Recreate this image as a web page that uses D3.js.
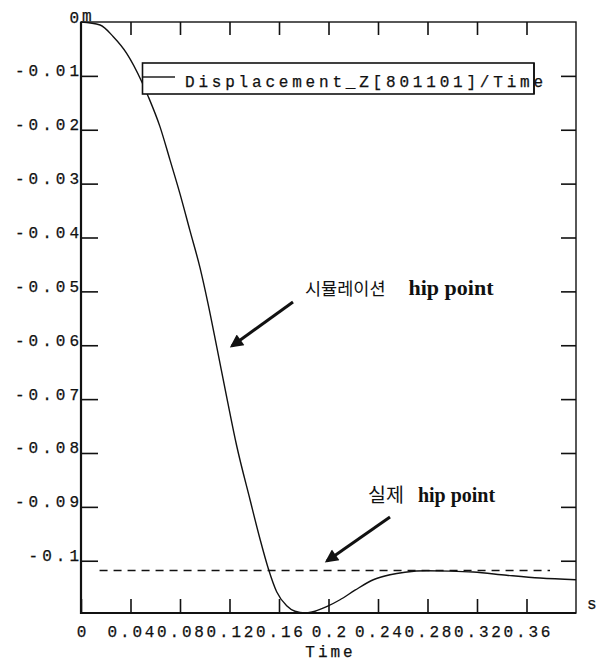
<!DOCTYPE html>
<html>
<head>
<meta charset="utf-8">
<script src="https://cdn.jsdelivr.net/npm/d3@7"></script>
<style>
    body { margin: 0; background: #fff; }
    svg { display: block; }
    .mono { font-family: "Liberation Mono", "DejaVu Sans Mono", monospace; font-size: 16px; fill: #111; stroke: #111; stroke-width: 0.25px; }
</style>
</head>
<body>
<script>
// displacement of node 801101 (m) over time (s)
const timeValues = [0, 0.0154, 0.0261, 0.0369, 0.0491, 0.0544, 0.0638, 0.0719, 0.080, 0.0881, 0.0962,
    0.1026, 0.1097, 0.1177, 0.1258, 0.1366, 0.1446, 0.1514, 0.1581, 0.1662, 0.1729, 0.1810, 0.1891,
    0.1985, 0.2093, 0.2214, 0.2362, 0.2497, 0.2618, 0.2794, 0.2982, 0.3170, 0.3440, 0.3709, 0.4];
const dispValues = [0, -0.00056, -0.00273, -0.00581, -0.01108, -0.01386, -0.01942, -0.0256, -0.03191,
    -0.03878, -0.04564, -0.05222, -0.0603, -0.06957, -0.07866, -0.08868, -0.09592, -0.10148, -0.10575,
    -0.10835, -0.10937, -0.1097, -0.10937, -0.10853, -0.10724, -0.10547, -0.10353, -0.1026, -0.10213,
    -0.10186, -0.10192, -0.1021, -0.10269, -0.10321, -0.10353];

// measured hip point (dashed reference)
const realHipValue = -0.1018;
const realHipSpan = [0.015, 0.379];

const xTickValues = [0, 0.04, 0.08, 0.12, 0.16, 0.2, 0.24, 0.28, 0.32, 0.36];
const xTickLabels = ['0', '0.04', '0.08', '0.12', '0.16', '0.2', '0.24', '0.28', '0.32', '0.36'];
const yTickValues = [0, -0.01, -0.02, -0.03, -0.04, -0.05, -0.06, -0.07, -0.08, -0.09, -0.1];
const yTickLabels = ['0', '-0.01', '-0.02', '-0.03', '-0.04', '-0.05', '-0.06', '-0.07', '-0.08', '-0.09', '-0.1'];

const legendLabel = 'Displacement_Z[801101]/Time';

const W = 606;
const H = 666;
const plotLeft = 81;
const plotRight = 576;
const plotTop = 22;
const plotBottom = 613;

const svg = d3.select('body').append('svg')
    .attr('width', W)
    .attr('height', H);

svg.append('rect').attr('width', W).attr('height', H).attr('fill', '#fff');

const x = d3.scaleLinear().domain([0, 0.4]).range([plotLeft, plotRight]);
const y = d3.scaleLinear().domain([0, -0.1097]).range([plotTop, plotBottom]);

const defs = svg.append('defs');
defs.append('marker')
    .attr('id', 'head')
    .attr('viewBox', '0 0 10 10')
    .attr('refX', 8)
    .attr('refY', 5)
    .attr('markerWidth', 5)
    .attr('markerHeight', 4.4)
    .attr('markerUnits', 'strokeWidth')
    .attr('orient', 'auto')
    .append('path')
    .attr('d', 'M0,0L10,5L0,10Z')
    .attr('fill', '#111');

function styleAxis(g)
{
    g.select('.domain').remove();
    g.selectAll('.tick line').attr('stroke', '#111').attr('stroke-width', 1.6);
}

function monoLabels(g, spacing)
{
    g.selectAll('.tick text')
        .attr('class', 'mono')
        .attr('fill', null)
        .style('letter-spacing', `${spacing}px`);
    g.attr('font-family', null).attr('font-size', null);
}

// ticks on all four sides point inward
svg.append('g')
    .attr('transform', `translate(0,${plotBottom})`)
    .call(d3.axisBottom(x).tickValues(xTickValues).tickSizeInner(-14).tickSizeOuter(0).tickPadding(13)
        .tickFormat((d, i) => xTickLabels[i]))
    .call(styleAxis)
    .call((g) =>
    {
        monoLabels(g, 2.8);
        g.selectAll('.tick text').attr('dx', 1.4);
    });

svg.append('g')
    .attr('transform', `translate(0,${plotTop})`)
    .call(d3.axisTop(x).tickValues(xTickValues.slice(1)).tickSizeInner(-13).tickSizeOuter(0).tickFormat(''))
    .call(styleAxis);

svg.append('g')
    .attr('transform', `translate(${plotLeft},0)`)
    .call(d3.axisLeft(y).tickValues(yTickValues).tickSizeInner(-17).tickSizeOuter(0).tickPadding(0)
        .tickFormat((d, i) => yTickLabels[i]))
    .call(styleAxis)
    .call((g) =>
    {
        g.selectAll('.tick line').filter((d) => d === 0).remove();
        monoLabels(g, 4);
        g.selectAll('.tick text')
            .attr('x', 0)
            .attr('dx', 2)
            .attr('dy', 0)
            .attr('text-anchor', 'end');
    });

svg.append('g')
    .attr('transform', `translate(${plotRight},0)`)
    .call(d3.axisRight(y).tickValues(yTickValues.slice(1)).tickSizeInner(-15).tickSizeOuter(0).tickFormat(''))
    .call(styleAxis);

// frame
svg.append('rect')
    .attr('x', plotLeft)
    .attr('y', plotTop)
    .attr('width', plotRight - plotLeft)
    .attr('height', plotBottom - plotTop)
    .attr('fill', 'none')
    .attr('stroke', '#111')
    .attr('stroke-width', 1.4);
svg.append('path')
    .attr('d', `M${plotLeft},${plotTop}V${plotBottom}H${plotRight}`)
    .attr('fill', 'none')
    .attr('stroke', '#111')
    .attr('stroke-width', 2.2);

// units
svg.append('text').attr('class', 'mono').attr('x', plotLeft + 1).attr('y', plotTop - 1).text('m');
svg.append('text').attr('class', 'mono').attr('x', plotRight + 11).attr('y', plotBottom - 4).text('s');
svg.append('text')
    .attr('class', 'mono')
    .attr('x', (plotLeft + plotRight) / 2 + 2)
    .attr('y', 657)
    .attr('text-anchor', 'middle')
    .style('letter-spacing', '3px')
    .text('Time');

// dashed measured line
svg.append('line')
    .attr('x1', x(realHipSpan[0]))
    .attr('x2', x(realHipSpan[1]))
    .attr('y1', y(realHipValue))
    .attr('y2', y(realHipValue))
    .attr('stroke', '#111')
    .attr('stroke-width', 1.6)
    .attr('stroke-dasharray', '8,6');

const points = timeValues.map((t, i) => [t, dispValues[i]]);
const line = d3.line()
    .x((d) => x(d[0]))
    .y((d) => y(d[1]))
    .curve(d3.curveMonotoneX);

svg.append('path')
    .datum(points)
    .attr('d', line)
    .attr('fill', 'none')
    .attr('stroke', '#111')
    .attr('stroke-width', 1.4);

// legend
const legend = svg.append('g');
legend.append('rect')
    .attr('x', 142.5)
    .attr('y', 63)
    .attr('width', 391.5)
    .attr('height', 31)
    .attr('fill', '#fff')
    .attr('stroke', '#111')
    .attr('stroke-width', 1.6);
legend.append('line')
    .attr('x1', 143)
    .attr('x2', 175)
    .attr('y1', 77)
    .attr('y2', 77)
    .attr('stroke', '#111')
    .attr('stroke-width', 1.4);
legend.append('text')
    .attr('class', 'mono')
    .attr('x', 185)
    .attr('y', 87)
    .style('letter-spacing', '3.8px')
    .text(legendLabel);
legend.append('line')
    .attr('x1', 534)
    .attr('x2', 534)
    .attr('y1', 63)
    .attr('y2', 94)
    .attr('stroke', '#111')
    .attr('stroke-width', 1.6);

// annotations
function annotate(tx, ty, korean, koSize, enSize, gap, from, to)
{
    const t = svg.append('text')
        .attr('x', tx)
        .attr('y', ty)
        .attr('fill', '#111');
    t.append('tspan')
        .attr('font-family', '"Noto Sans CJK KR", sans-serif')
        .attr('font-size', koSize)
        .text(korean);
    t.append('tspan')
        .attr('font-family', '"Liberation Serif", serif')
        .attr('font-weight', 'bold')
        .attr('font-size', enSize)
        .attr('dx', gap)
        .text('hip point');

    svg.append('line')
        .attr('x1', from[0])
        .attr('y1', from[1])
        .attr('x2', to[0])
        .attr('y2', to[1])
        .attr('stroke', '#111')
        .attr('stroke-width', 3)
        .attr('marker-end', 'url(#head)');
}

annotate(305, 295, '시뮬레이션', 17.5, 22, 23, [293, 302], [232, 346]);
annotate(368, 502, '실제', 19.5, 20, 14, [390, 517], [327, 561]);
</script>
</body>
</html>
